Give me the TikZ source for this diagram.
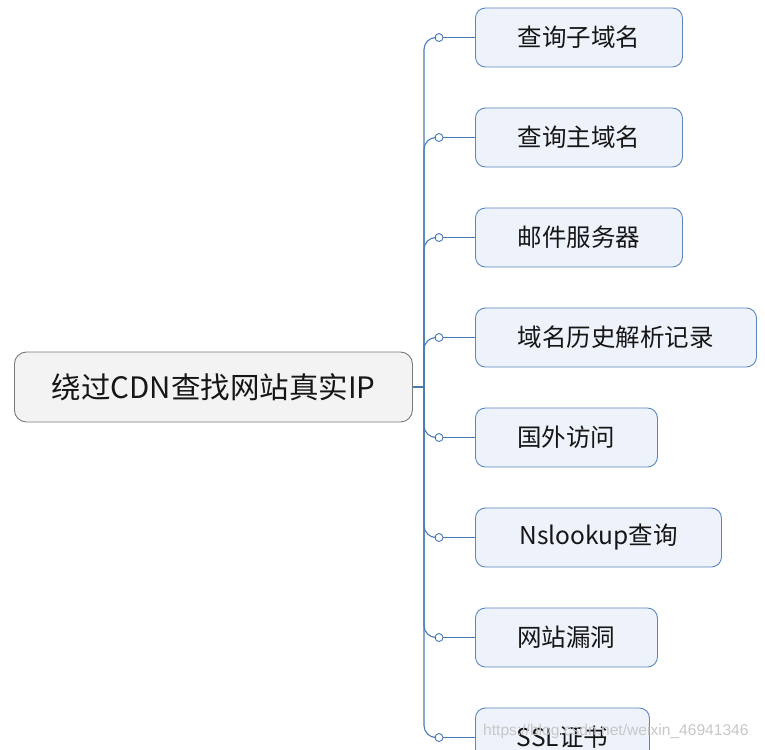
\documentclass[tikz,border=0pt]{standalone}
\usepackage{fontspec}
\setmainfont{Noto Sans CJK SC}
\newfontfamily\markfont{Liberation Sans}

\definecolor{linkblue}{HTML}{4A7AB4}
\definecolor{topicfill}{HTML}{EEF3FB}
\definecolor{topicline}{HTML}{5A86BE}
\definecolor{rootfill}{HTML}{F3F3F3}
\definecolor{rootline}{HTML}{7A7A7A}
\definecolor{inktext}{HTML}{161616}

\tikzset{
  rootbox/.style={draw=rootline, fill=rootfill, rounded corners=12pt, line width=0.9pt,
    minimum height=70pt, inner sep=0pt, anchor=west, text=inktext,
    font=\fontsize{29.5}{33}\selectfont},
  topicbox/.style={draw=topicline, fill=topicfill, rounded corners=10pt, line width=0.9pt,
    minimum height=59pt, inner sep=0pt, anchor=west, text=inktext,
    font=\fontsize{24.5}{28}\selectfont},
  branch/.style={draw=linkblue, line width=1.1pt, rounded corners=12pt},
  knot/.style={circle, draw=linkblue, fill=white, line width=0.9pt,
    minimum size=8pt, inner sep=0pt},
}

\begin{document}
\begin{tikzpicture}[x=1pt, y=-1pt]
\useasboundingbox (0,0) rectangle (765,749);

% Parameters
\def\xtrunk{424}
\def\xknot{439}
\def\xtopic{475}

% Root topic
\node[rootbox, minimum width=398pt] (root) at (14,387) {绕过CDN查找网站真实IP};
\coordinate (hub) at (\xtrunk,387);
\draw[branch] (root.east) -- (hub);

% Subtopics
\node[topicbox, minimum width=207pt] (subdomain) at (\xtopic,37.5) {查询子域名};
\node[topicbox, minimum width=207pt] (maindomain) at (\xtopic,137.5) {查询主域名};
\node[topicbox, minimum width=207pt] (mailsrv) at (\xtopic,237.5) {邮件服务器};
\node[topicbox, minimum width=281pt] (dnshist) at (\xtopic,337.5) {域名历史解析记录};
\node[topicbox, minimum width=182pt] (abroad) at (\xtopic,437.5) {国外访问};
\node[topicbox, minimum width=246pt] (nslookup) at (\xtopic,537.5) {Nslookup查询};
\node[topicbox, minimum width=182pt] (vuln) at (\xtopic,637.5) {网站漏洞};
\node[topicbox, minimum width=174pt] (sslcert) at (\xtopic,737.5) {SSL证书};

% Knots on the branches
\node[knot] (k1) at (\xknot,37.5) {};
\node[knot] (k2) at (\xknot,137.5) {};
\node[knot] (k3) at (\xknot,237.5) {};
\node[knot] (k4) at (\xknot,337.5) {};
\node[knot] (k5) at (\xknot,437.5) {};
\node[knot] (k6) at (\xknot,537.5) {};
\node[knot] (k7) at (\xknot,637.5) {};
\node[knot] (k8) at (\xknot,737.5) {};

% Branches
\draw[branch] (hub) |- (k1);
\draw[branch] (hub) |- (k2);
\draw[branch] (hub) |- (k3);
\draw[branch] (hub) |- (k4);
\draw[branch] (hub) |- (k5);
\draw[branch] (hub) |- (k6);
\draw[branch] (hub) |- (k7);
\draw[branch] (hub) |- (k8);

\draw[branch] (k1) -- (subdomain);
\draw[branch] (k2) -- (maindomain);
\draw[branch] (k3) -- (mailsrv);
\draw[branch] (k4) -- (dnshist);
\draw[branch] (k5) -- (abroad);
\draw[branch] (k6) -- (nslookup);
\draw[branch] (k7) -- (vuln);
\draw[branch] (k8) -- (sslcert);

% Watermark
\node[anchor=west, inner sep=0pt, text=black!22, font=\markfont\fontsize{15.6}{18}\selectfont]
  (mark) at (483,731) {https://blog.csdn.net/weixin\_46941346};

\end{tikzpicture}
\end{document}
